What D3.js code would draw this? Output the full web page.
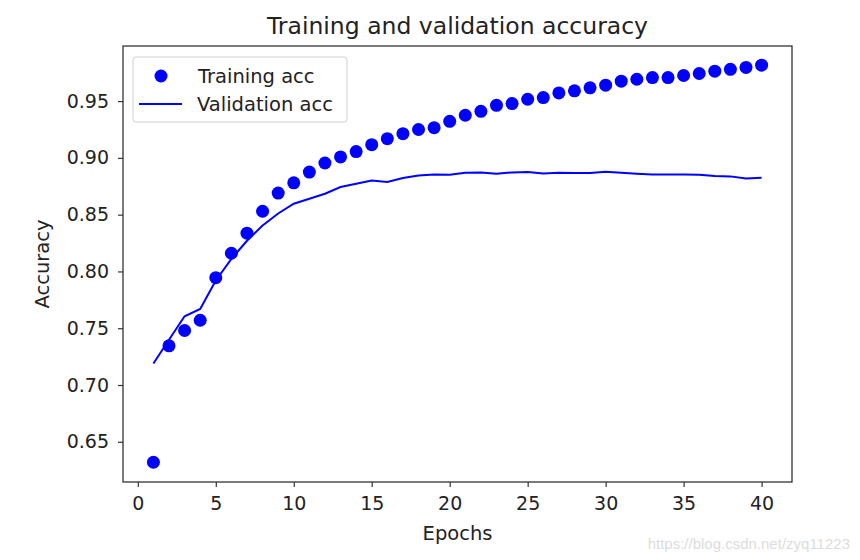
<!DOCTYPE html>
<html>
<head>
<meta charset="utf-8">
<script src="https://cdn.jsdelivr.net/npm/d3@7"></script>
<style>
  body { margin: 0; background: #fff; }
  text { font-family: "DejaVu Sans", sans-serif; fill: #222; }
</style>
</head>
<body>
<svg id="chart" width="860" height="560"></svg>
<script>
// epochs 1..40
const epochs = d3.range(1, 41)

const trainingAcc = [
  0.632, 0.7345, 0.748, 0.757, 0.7945, 0.816, 0.8337, 0.853, 0.869, 0.878,
  0.8875, 0.8955, 0.9008, 0.9055, 0.9116, 0.9169, 0.9213, 0.925, 0.9266, 0.9322,
  0.9375, 0.941, 0.9463, 0.9478, 0.9516, 0.9531, 0.9572, 0.959, 0.9617, 0.964,
  0.9675, 0.9692, 0.9707, 0.9707, 0.9725, 0.9743, 0.9763, 0.978, 0.9796, 0.9816
]

const validationAcc = [
  0.719, 0.7398, 0.7605, 0.767, 0.792, 0.811, 0.827, 0.8404, 0.851, 0.8596,
  0.864, 0.8684, 0.8743, 0.8772, 0.8801, 0.8787, 0.8822, 0.8845, 0.8854, 0.8851,
  0.8869, 0.8872, 0.886, 0.8872, 0.8875, 0.8863, 0.8869, 0.8866, 0.8866, 0.8878,
  0.8869, 0.886, 0.8854, 0.8854, 0.8854, 0.8851, 0.884, 0.8837, 0.8819, 0.8825
]

const xTicks = [0, 5, 10, 15, 20, 25, 30, 35, 40]
const yTicks = [0.65, 0.70, 0.75, 0.80, 0.85, 0.90, 0.95]

const margin = {top: 46, right: 68, bottom: 78, left: 123}
const width = 860 - margin.left - margin.right
const height = 560 - margin.top - margin.bottom

const svg = d3.select("#chart")

const xscale = d3.scaleLinear().domain([-0.95, 41.95]).range([0, width])
const yscale = d3.scaleLinear().domain([0.6146, 0.9985]).range([height, 0])

const g = svg.append("g").attr("transform", `translate(${margin.left},${margin.top})`)

// validation line
const line = d3.line()
  .x((d, i) => xscale(epochs[i]))
  .y(d => yscale(d))

g.append("path")
  .datum(validationAcc)
  .attr("fill", "none")
  .attr("stroke", "#0000ff")
  .attr("stroke-width", 2)
  .attr("d", line)

// training dots
g.selectAll("circle.train")
  .data(trainingAcc)
  .join("circle")
  .attr("class", "train")
  .attr("cx", (d, i) => xscale(epochs[i]))
  .attr("cy", d => yscale(d))
  .attr("r", 6.5)
  .attr("fill", "#0000ff")

// axes
const xAxis = g.append("g")
  .attr("transform", `translate(0,${height})`)
  .call(d3.axisBottom(xscale).tickValues(xTicks).tickSize(5).tickPadding(10).tickFormat(d3.format("d")))
const yAxis = g.append("g")
  .call(d3.axisLeft(yscale).tickValues(yTicks).tickSize(5).tickPadding(9).tickFormat(d3.format(".2f")))

;[xAxis, yAxis].forEach(a => {
  a.select(".domain").remove()
  a.selectAll(".tick line").attr("stroke", "#333").attr("stroke-width", 1.2)
  a.selectAll(".tick text").style("font-size", "19px").style("font-family", "DejaVu Sans").attr("fill", "#222")
})

// frame
g.append("rect")
  .attr("width", width).attr("height", height)
  .attr("fill", "none").attr("stroke", "#333").attr("stroke-width", 1.3)

// legend
const legend = g.append("g").attr("transform", "translate(10,11)")
legend.append("rect")
  .attr("width", 214).attr("height", 65).attr("rx", 3)
  .attr("fill", "#fff").attr("fill-opacity", 0.8)
  .attr("stroke", "#d0d0d0")
legend.append("circle").attr("cx", 28).attr("cy", 19).attr("r", 6.5).attr("fill", "#0000ff")
legend.append("line").attr("x1", 6).attr("x2", 49).attr("y1", 47).attr("y2", 47)
  .attr("stroke", "#0000ff").attr("stroke-width", 2)
legend.append("text").attr("x", 65).attr("y", 19).attr("dy", "0.35em")
  .style("font-size", "19.5px").text("Training acc")
legend.append("text").attr("x", 64).attr("y", 47).attr("dy", "0.35em")
  .style("font-size", "19.5px").text("Validation acc")

// titles
svg.append("text")
  .attr("x", margin.left + width / 2).attr("y", 34)
  .attr("text-anchor", "middle").style("font-size", "23.5px")
  .text("Training and validation accuracy")
svg.append("text")
  .attr("x", margin.left + width / 2).attr("y", 540)
  .attr("text-anchor", "middle").style("font-size", "19.5px")
  .text("Epochs")
svg.append("text")
  .attr("transform", `translate(49,${margin.top + height / 2}) rotate(-90)`)
  .attr("text-anchor", "middle").style("font-size", "19.5px")
  .text("Accuracy")

// watermark
svg.append("text")
  .attr("x", 850).attr("y", 549).attr("text-anchor", "end")
  .style("font-family", "Liberation Sans, Arial, sans-serif").style("font-size", "15px")
  .style("fill", "#dcdcdc")
  .text("https://blog.csdn.net/zyq11223")
</script>
</body>
</html>
